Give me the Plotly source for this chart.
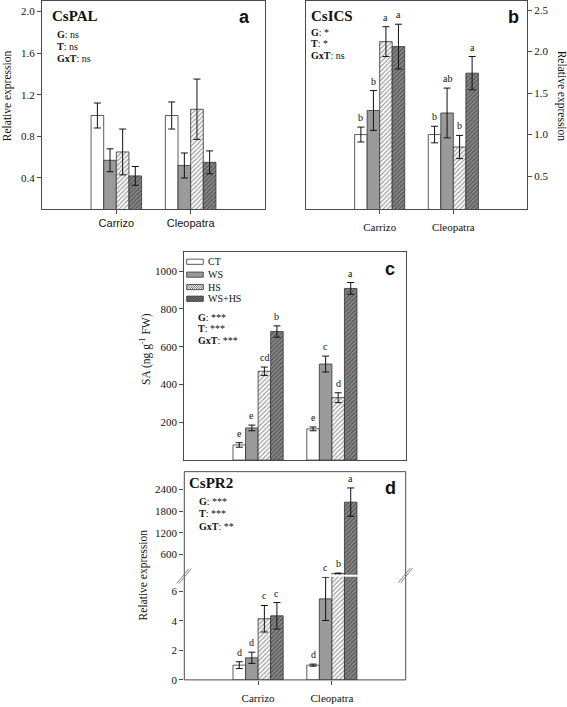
import plotly.graph_objects as go

W, H = 567, 707

categories = ["Carrizo", "Cleopatra"]
treatments = ["CT", "WS", "HS", "WS+HS"]

# Panel a: CsPAL relative expression (rows = treatments, cols = genotypes)
pal_means = [[1.00, 1.00], [0.57, 0.52], [0.65, 1.06], [0.42, 0.55]]
pal_errs = [[0.12, 0.13], [0.11, 0.12], [0.22, 0.29], [0.09, 0.11]]

# Panel b: CsICS relative expression
ics_means = [[1.00, 1.00], [1.29, 1.26], [2.12, 0.85], [2.06, 1.74]]
ics_errs = [[0.09, 0.10], [0.24, 0.30], [0.18, 0.14], [0.27, 0.20]]
ics_letters = [["b", "b"], ["b", "ab"], ["a", "b"], ["a", "a"]]

# Panel c: SA (ng g-1 FW)
sa_means = [[80, 165], [170, 508], [470, 330], [680, 908]]
sa_errs = [[12, 10], [15, 42], [22, 26], [30, 31]]
sa_letters = [["e", "e"], ["e", "c"], ["cd", "d"], ["b", "a"]]

# Panel d: CsPR2 relative expression (broken axis)
pr2_means = [[1.0, 1.0], [1.5, 5.5], [4.15, 65], [4.35, 2050]]
pr2_errs = [[0.23, 0.07], [0.38, 1.47], [0.9, 10], [0.9, 395]]
pr2_letters = [["d", "d"], ["d", "c"], ["c", "b"], ["c", "a"]]

stats_a = [("G", "ns"), ("T", "ns"), ("GxT", "ns")]
stats_b = [("G", "*"), ("T", "*"), ("GxT", "ns")]
stats_c = [("G", "***"), ("T", "***"), ("GxT", "***")]
stats_d = [("G", "***"), ("T", "***"), ("GxT", "**")]

pal_ticks = [0.4, 0.8, 1.2, 1.6, 2.0]
ics_ticks = [0.5, 1.0, 1.5, 2.0, 2.5]
sa_ticks = [200, 400, 600, 800, 1000]
pr2_low_ticks = [0, 2, 4, 6]
pr2_high_ticks = [600, 1200, 1800, 2400]

SERIF = "Liberation Serif"
SANS = "Liberation Sans"
FRAME = "#4a4a4a"


def px(x):
    return x / W


def py(y):
    return 1 - y / H


BW = 0.17
offsets = [-2 * BW + j * BW for j in range(4)]


def marker_for(j):
    line = dict(color="#333333", width=0.8)
    if j == 0:
        return dict(color="white", line=line)
    if j == 1:
        return dict(color="#9a9a9a", line=line)
    if j == 2:
        return dict(color="white", line=line,
                    pattern=dict(shape="/", bgcolor="white", fgcolor="#2a2a2a",
                                 size=3.2, solidity=0.35))
    return dict(color="#8c8c8c", line=line,
                pattern=dict(shape="/", bgcolor="#8c8c8c", fgcolor="#222222",
                             size=3, solidity=0.45))


fig = go.Figure()
xpos = list(range(len(categories)))


def add_panel(xa, ya, means, errs):
    for j in range(4):
        fig.add_trace(go.Bar(
            x=xpos, y=means[j], width=BW, offset=offsets[j],
            xaxis=xa, yaxis=ya, marker=marker_for(j), name=treatments[j],
            showlegend=False,
            error_y=dict(type="data", array=errs[j], color="#111111",
                         thickness=1, width=3.5),
        ))


add_panel("x", "y", pal_means, pal_errs)
add_panel("x2", "y2", ics_means, ics_errs)
add_panel("x3", "y3", sa_means, sa_errs)
add_panel("x4", "y4", pr2_means, pr2_errs)
add_panel("x4", "y5", pr2_means, pr2_errs)

tickfont = dict(family=SERIF, size=11, color="#111111")
xrange = [-1, 2]

dom_a = [px(42), px(265)]
dom_b = [px(306), px(527)]
dom_c = [px(184.3), px(405.7)]
ydom_ab = [py(211), py(1)]
ydom_c = [py(464), py(254.3)]
ydom_d_low = [py(685.7), py(581.7)]
ydom_d_high = [py(579.7), py(475.7)]

axcommon = dict(showgrid=False, zeroline=False, linecolor=FRAME, linewidth=1,
                tickcolor=FRAME, ticklen=4, tickwidth=1)

fig.update_layout(
    width=W, height=H, margin=dict(l=0, r=0, t=0, b=0),
    paper_bgcolor="white", plot_bgcolor="white", barmode="overlay",
    showlegend=False,
    xaxis=dict(domain=dom_a, anchor="y", range=xrange, tickvals=xpos,
               ticktext=categories, ticks="outside", showline=True, mirror=True,
               tickfont=dict(family=SANS, size=11, color="#111111"), **axcommon),
    yaxis=dict(domain=ydom_ab, anchor="x", range=[0.1, 2.1], tickvals=pal_ticks,
               ticktext=[f"{v:.1f}" for v in pal_ticks], ticks="outside",
               showline=True, mirror=True, tickfont=tickfont, **axcommon),
    xaxis2=dict(domain=dom_b, anchor="y2", range=xrange, tickvals=xpos,
                ticktext=categories, ticks="outside", showline=True, mirror=True,
                tickfont=tickfont, ticklabelstandoff=4, **axcommon),
    yaxis2=dict(domain=ydom_ab, anchor="x2", side="right", range=[0.1, 2.61],
                tickvals=ics_ticks, ticktext=[f"{v:.1f}" for v in ics_ticks],
                ticks="outside", showline=True, mirror=True, tickfont=tickfont,
                **axcommon),
    xaxis3=dict(domain=dom_c, anchor="y3", range=xrange, tickvals=xpos,
                showticklabels=False, ticks="", showline=True, mirror=True,
                **axcommon),
    yaxis3=dict(domain=ydom_c, anchor="x3", range=[0, 1100], tickvals=sa_ticks,
                ticks="outside", showline=True, mirror=True, tickfont=tickfont,
                **axcommon),
    xaxis4=dict(domain=dom_c, anchor="y4", range=xrange, tickvals=xpos,
                ticktext=categories, ticks="outside", showline=False,
                tickfont=tickfont, ticklabelstandoff=4, **axcommon),
    yaxis4=dict(domain=ydom_d_low, anchor="x4", range=[0, 7.0],
                tickvals=pr2_low_ticks, ticks="outside", showline=False,
                tickfont=tickfont, **axcommon),
    yaxis5=dict(domain=ydom_d_high, anchor="x4", range=[28, 2898],
                tickvals=pr2_high_ticks, ticks="outside", showline=False,
                tickfont=tickfont, **axcommon),
)

ann = []
shapes = []


def text(x, y, s, size=10, family=SERIF, xanchor="left", angle=0, bold=False):
    ann.append(dict(xref="paper", yref="paper", x=px(x), y=py(y), text=(f"<b>{s}</b>" if bold else s),
                    showarrow=False, xanchor=xanchor, yanchor="middle", textangle=angle,
                    font=dict(family=family, size=size, color="#111111")))


def stats(x, y0, dy, items):
    for k, (lab, val) in enumerate(items):
        text(x, y0 + k * dy, f"<b>{lab}</b>: {val}", size=10)


# panel a
text(50, 16, "CsPAL", size=15, bold=True)
text(244, 17, "a", size=18, family=SANS, xanchor="center", bold=True)
stats(55, 34.3, 12.5, stats_a)
text(7, 97, "Relative expression", size=11.5, xanchor="center", angle=-90)

# panel b
text(309.3, 16, "CsICS", size=15, bold=True)
text(513.3, 17, "b", size=18, family=SANS, xanchor="center", bold=True)
stats(309.3, 32.3, 12, stats_b)
text(561.5, 97, "Relative expression", size=11.5, xanchor="center", angle=90)

# panel c
text(390, 271, "c", size=18, family=SANS, xanchor="center", bold=True)
stats(196, 320, 11.7, stats_c)
text(145, 352, "SA (ng g<sup>-1</sup> FW)", size=11.5, xanchor="center", angle=-90)

# panel d
text(187.3, 486.7, "CsPR2", size=15, bold=True)
text(390.7, 491.7, "d", size=18, family=SANS, xanchor="center", bold=True)
stats(196.7, 505.7, 12.6, stats_d)
text(143.3, 580, "Relative expression", size=11.5, xanchor="center", angle=-90)


def letters(xa, ya, means, errs, labs, low_top=None, ya_high=None):
    for j in range(4):
        for i in range(len(categories)):
            yref = ya
            if low_top is not None and means[j][i] > low_top:
                yref = ya_high
            ann.append(dict(xref=xa, yref=yref, x=i + offsets[j] + BW / 2,
                            y=means[j][i] + errs[j][i], text=labs[j][i],
                            showarrow=False, xanchor="center", yanchor="bottom",
                            yshift=2, font=dict(family=SERIF, size=10, color="#111111")))


letters("x2", "y2", ics_means, ics_errs, ics_letters)
letters("x3", "y3", sa_means, sa_errs, sa_letters)
letters("x4", "y4", pr2_means, pr2_errs, pr2_letters, low_top=7.0, ya_high="y5")

# legend of panel c (manual)
leg_rows = [264, 277, 289.5, 301.3]
leg_fill = ["white", "#9a9a9a", "white", "#8c8c8c"]
leg_hatch = [None, None, ("#2a2a2a", 2.2), ("#222222", 1.6)]
sx0, sx1 = 186.7, 203.3
for j, yc in enumerate(leg_rows):
    y0, y1 = yc - 2.6, yc + 2.6
    shapes.append(dict(type="rect", xref="paper", yref="paper", x0=px(sx0), x1=px(sx1),
                       y0=py(y1), y1=py(y0), fillcolor=leg_fill[j],
                       line=dict(color="#333333", width=0.8), layer="above"))
    if leg_hatch[j]:
        col, step = leg_hatch[j]
        c = sx0 + y0 + step / 2
        while c < sx1 + y1:
            ya_ = max(y0, c - sx1)
            yb_ = min(y1, c - sx0)
            if yb_ > ya_:
                shapes.append(dict(type="line", xref="paper", yref="paper",
                                   x0=px(c - ya_), y0=py(ya_), x1=px(c - yb_), y1=py(yb_),
                                   line=dict(color=col, width=0.7), layer="above"))
            c += step
    text(206, yc, treatments[j], size=10)

# panel d frame and break marks
shapes.append(dict(type="rect", xref="paper", yref="paper", x0=dom_c[0], x1=dom_c[1],
                   y0=py(685.7), y1=py(475.7), line=dict(color=FRAME, width=1),
                   layer="above"))
for (cx, cy) in [(184, 581), (405.5, 580.3)]:
    for d in (-1.2, 1.2):
        shapes.append(dict(type="line", xref="paper", yref="paper",
                           x0=px(cx - 6 + d), y0=py(cy + 7.5), x1=px(cx + 6 + d), y1=py(cy - 7.5),
                           line=dict(color="#777777", width=0.9), layer="above"))

fig.update_layout(annotations=ann, shapes=shapes)
fig.write_html("out.html", config={"displayModeBar": False},
               post_script="document.body.style.margin='0';document.body.style.padding='0';document.body.style.overflow='hidden';")
